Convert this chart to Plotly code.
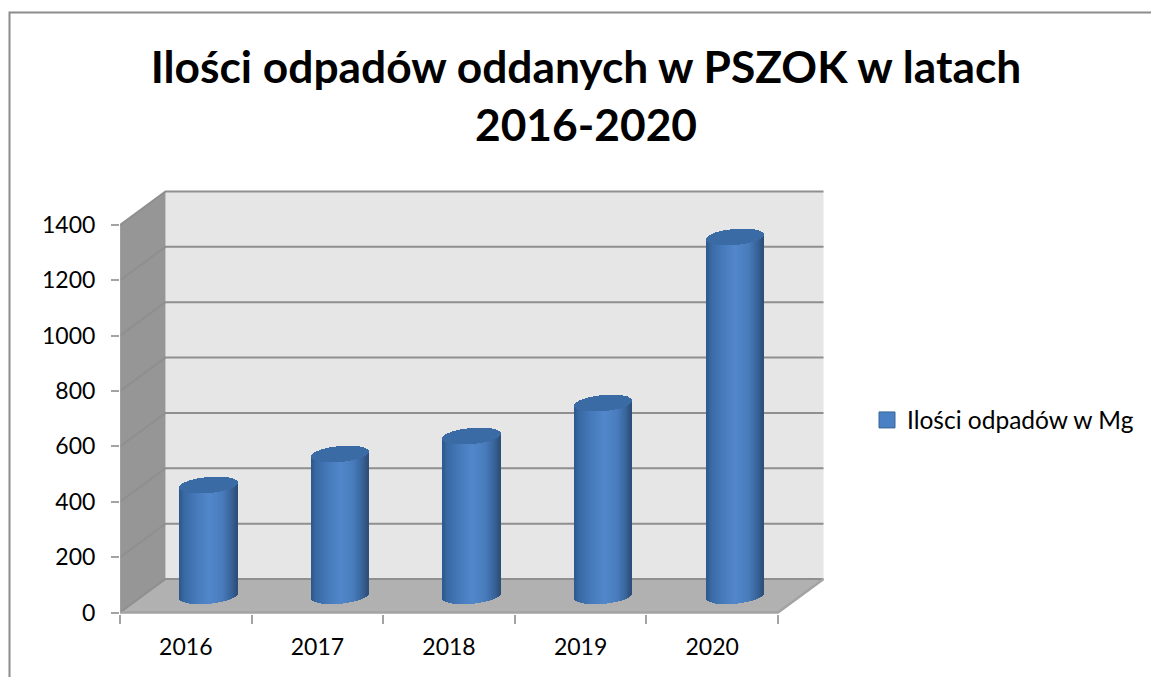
import math
import plotly.graph_objects as go

# ---- data -------------------------------------------------------------
years = ["2016", "2017", "2018", "2019", "2020"]
values = [400, 512, 577, 696, 1296]
y_ticks = [0, 200, 400, 600, 800, 1000, 1200, 1400]
series_name = "Ilości odpadów w Mg"
title_text = "Ilości odpadów oddanych w PSZOK w latach<br>2016-2020"

# ---- page geometry ----------------------------------------------------
W, H = 1151, 677
L, R, T, B = 120, 824, 190, 614          # plot rectangle in pixels
PX_X = 131.6                             # pixels per category
PX_Y = 387.5 / 1400                      # pixels per value unit
x_range = [-0.5, -0.5 + (R - L) / PX_X]
y_range = [-(B - 612.5) / PX_Y, (612.5 - T) / PX_Y]

DX = 45.5 / PX_X                         # depth offset of the back wall
DY = 33.5 / PX_Y
X0, X1 = -0.5, 4.5


def paper(px, py):
    return (px - L) / (R - L), (B - py) / (B - T)


shapes = []


def poly(points, fill=None, color=None, width=0):
    path = "M" + " L".join(f"{a},{b}" for a, b in points)
    if fill:
        path += " Z"
    shapes.append(dict(type="path", path=path, xref="x", yref="y", layer="below",
                       fillcolor=fill or "rgba(0,0,0,0)",
                       line=dict(color=color or "rgba(0,0,0,0)", width=width)))


TOP = y_ticks[-1]
# walls and floor
poly([(X0 + DX, DY), (X1 + DX, DY), (X1 + DX, TOP + DY), (X0 + DX, TOP + DY)], fill="#e6e6e6")
poly([(X0, 0), (X0 + DX, DY), (X0 + DX, TOP + DY), (X0, TOP)], fill="#969696")
poly([(X0, 0), (X1, 0), (X1 + DX, DY), (X0 + DX, DY)], fill="#b1b1b1")
# gridlines
GRID = "#8f8f8f"
for v in y_ticks:
    poly([(X0, v), (X0 + DX, v + DY), (X1 + DX, v + DY)], color=GRID, width=2)
# axis edges
EDGE = "#a3a3a3"
poly([(X0, 0), (X1, 0), (X1 + DX, DY)], color=EDGE, width=2.5)
poly([(X0, 0), (X0, TOP)], color=EDGE, width=1.5)

# ---- cylinders: thin bars side by side, shaded across the width --------
N = 58
half = 0.2185
tilt = 2.5 / PX_Y
b = 8 / PX_Y
floor_mid = DY / 2
stops = [(-1.0, (46, 88, 138)), (-0.82, (56, 106, 164)), (-0.4, (70, 122, 186)),
         (0.05, (82, 136, 204)), (0.5, (72, 124, 188)), (0.82, (56, 98, 152)),
         (1.0, (46, 78, 118))]


def shade(t):
    for (t0, c0), (t1, c1) in zip(stops, stops[1:]):
        if t <= t1:
            f = (t - t0) / (t1 - t0)
            return "rgb(%d,%d,%d)" % tuple(a + (c - a) * f for a, c in zip(c0, c1))
    return "rgb(46,78,118)"


sx, sb, sh, sc, sw = [], [], [], [], []
cap_color = "#3b6ba5"
for i, v in enumerate(values):
    cx = i + DX / 2
    for k in range(N):
        t = -1 + (2 * k + 1) / N
        curve = b * math.sqrt(1 - t * t)
        centre = tilt * t
        bottom = floor_mid + centre - curve
        top = floor_mid + v + centre
        sx.append(cx + t * half)
        sb.append(bottom)
        sh.append(top - bottom)
        sc.append(shade(t))
        sw.append(2.6 * half / N)
    for k in range(N):
        t = -1 + (2 * k + 1) / N
        curve = b * math.sqrt(1 - t * t)
        centre = floor_mid + v + tilt * t
        sx.append(cx + t * half)
        sb.append(centre - curve)
        sh.append(2 * curve)
        sc.append(cap_color)
        sw.append(2.6 * half / N)

fig = go.Figure()
fig.add_trace(go.Bar(x=sx, y=sh, base=sb, width=sw, showlegend=False, hoverinfo="skip",
                     marker=dict(color=sc, line=dict(width=0))))
fig.add_trace(go.Scatter(x=[None], y=[None], mode="markers", name=series_name,
                         marker=dict(symbol="square", size=16, color="#4a80c4",
                                     line=dict(color="#3a6596", width=1))))

# outer frame
fx0, fy0 = paper(9.5, 677)
fx1, fy1 = paper(9.5, 12.5)
fx2, _ = paper(1151, 12.5)
shapes.append(dict(type="path", xref="paper", yref="paper", layer="below",
                   path=f"M{fx0},{fy0} L{fx1},{fy1} L{fx2},{fy1}",
                   line=dict(color="#8c8c8c", width=2)))

lx, ly = paper(867, 420)
FONT = "Lato, Carlito, sans-serif"
fig.update_layout(
    width=W, height=H, autosize=False,
    margin=dict(l=L, r=W - R, t=T, b=H - B, pad=0, autoexpand=False),
    paper_bgcolor="white", plot_bgcolor="white",
    barmode="overlay", bargap=0, shapes=shapes,
    font=dict(family=FONT, color="#000000"),
    title=dict(text=title_text, x=586 / W, xanchor="center", y=1 - 83 / H, yanchor="middle",
               font=dict(family=FONT, size=44.3, color="#000000", weight="bold")),
    legend=dict(x=lx, y=ly, xanchor="left", yanchor="middle", bgcolor="rgba(0,0,0,0)",
                font=dict(size=24.5, family=FONT, color="#000000")),
    xaxis=dict(range=x_range, tickmode="array", tickvals=list(range(len(years))), ticktext=years,
               showgrid=False, zeroline=False, showline=False, ticks="", automargin=False,
               ticklabelstandoff=17, tickfont=dict(size=23, family=FONT, color="#000000"),
               minor=dict(tickmode="array", tickvals=[i - 0.5 for i in range(len(years) + 1)],
                          ticks="outside", ticklen=9, tickwidth=2, tickcolor=EDGE, showgrid=False)),
    yaxis=dict(range=y_range, tickmode="array", tickvals=y_ticks, showgrid=False, zeroline=False,
               showline=False, ticks="outside", ticklen=8, tickwidth=2, tickcolor=EDGE, automargin=False,
               tickfont=dict(size=23, family=FONT, color="#000000"), ticklabelstandoff=11),
)

fig.write_html("out.html", config={"displayModeBar": False},
               post_script="document.body.style.margin='0';document.body.style.overflow='hidden';")
